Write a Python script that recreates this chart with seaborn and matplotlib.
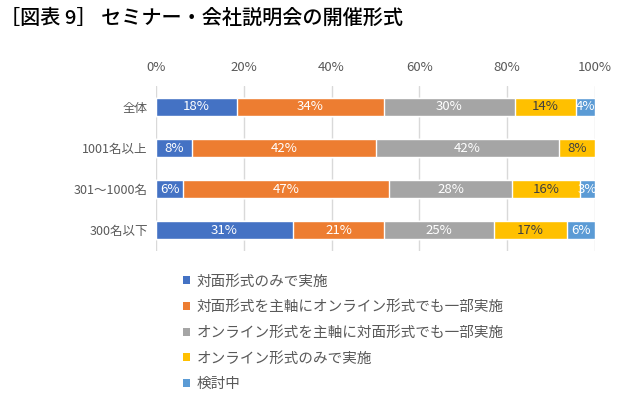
import matplotlib
matplotlib.use("Agg")
import matplotlib.pyplot as plt
from matplotlib.patches import Patch
import seaborn as sns
import pandas as pd
import numpy as np

categories = ["全体", "1001名以上", "301～1000名", "300名以下"]
series = ["対面形式のみで実施",
          "対面形式を主軸にオンライン形式でも一部実施",
          "オンライン形式を主軸に対面形式でも一部実施",
          "オンライン形式のみで実施",
          "検討中"]
face_only = [18.4, 8.3, 6.2, 31.2]
face_main = [33.5, 41.7, 46.9, 20.7]
online_main = [29.9, 41.7, 28.0, 25.0]
online_only = [13.9, 8.3, 15.5, 16.7]
undecided = [4.3, 0.0, 3.4, 6.4]
values = [face_only, face_main, online_main, online_only, undecided]
colors = ["#4472C4", "#ED7D31", "#A5A5A5", "#FFC000", "#5B9BD5"]
label_colors = ["white", "white", "white", "#404040", "white"]

sns.set_theme(style="white")
plt.rcParams['font.family'] = ['Noto Sans CJK JP', 'DejaVu Sans']

fig = plt.figure(figsize=(6.36, 4.08), dpi=100)
ax = fig.add_axes([0.2453, 0.386, 0.6903, 0.402])

df = pd.DataFrame({s: v for s, v in zip(series, values)}, index=categories)
cum = df.cumsum(axis=1)

for i in range(len(series) - 1, -1, -1):
    d = pd.DataFrame({"cat": categories, "val": cum.iloc[:, i].values})
    sns.barplot(data=d, x="val", y="cat", orient="h", color=colors[i],
                saturation=1, width=0.44, ax=ax, zorder=2)

# labels
for i, s in enumerate(series):
    starts = cum.iloc[:, i].values - df.iloc[:, i].values
    for j, v in enumerate(df.iloc[:, i].values):
        if v <= 0:
            continue
        ax.text(starts[j] + v / 2, j, f"{v:.0f}%", ha="center", va="center",
                fontsize=9.5, color=label_colors[i], zorder=3)

ax.set_xlim(0, 100)
ax.set_ylim(3.5, -0.5)
ax.set_xticks(np.arange(0, 101, 20))
ax.set_xticklabels([f"{t}%" for t in range(0, 101, 20)])
ax.xaxis.tick_top()
ax.tick_params(axis="y", length=0, labelsize=9, colors="#595959", pad=6)
ax.tick_params(axis="x", length=0, labelsize=9.5, colors="#595959", pad=9)
ax.grid(axis="x", color="#D9D9D9", linewidth=1, zorder=0)
ax.set_axisbelow(True)
ax.set_xlabel("")
ax.set_ylabel("")
for sp in ax.spines.values():
    sp.set_visible(False)

handles = [Patch(facecolor=c, edgecolor="none") for c in colors]
leg = fig.legend(handles, series, loc="upper left", bbox_to_anchor=(0.287, 0.327),
                 frameon=False, fontsize=10.5, handlelength=0.48, handleheight=0.48,
                 handletextpad=0.5, labelspacing=0.8, borderaxespad=0,
                 borderpad=0)
for t in leg.get_texts():
    t.set_color("#595959")

fig.text(0.0, 0.955, "［図表 9］ セミナー・会社説明会の開催形式", fontsize=14.5,
         fontweight="medium", color="black", ha="left", va="center")

fig.savefig("out.png", dpi=100)
